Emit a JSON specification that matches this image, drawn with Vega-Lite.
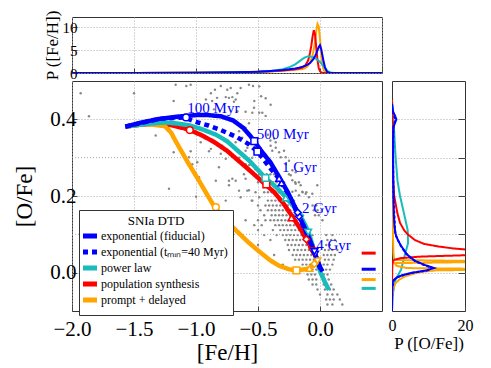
{
  "$schema": "https://vega.github.io/schema/vega-lite/v6.json",
  "padding": {"left": 13, "top": 9, "right": 5, "bottom": 5},
  "config": {
    "font": "Liberation Serif",
    "view": {"stroke": "#333", "strokeWidth": 1},
    "style": {"guide-label": {"font": "Liberation Serif"}, "guide-title": {"font": "Liberation Serif"}},
    "axis": {"labelFont": "Liberation Serif", "titleFont": "Liberation Serif", "labelColor": "#000", "titleColor": "#000", "titleFontWeight": "normal", "domain": false, "tickColor": "#444", "gridColor": "#aaa", "gridDash": [1, 2], "labelFlush": false, "labelOverlap": false},
    "legend": {"labelFont": "Liberation Serif", "titleFont": "Liberation Serif"}
  },
  "datasets": {
    "obs": [
      {"x": -1.93, "y": 0.468}, {"x": -1.5, "y": 0.468}, {"x": -1.863, "y": 0.408}, {"x": -1.325, "y": 0.358}, {"x": -1.218, "y": 0.219},
      {"x": -1.19, "y": 0.353}, {"x": -1.18, "y": 0.448}, {"x": -1.18, "y": 0.314}, {"x": -1.164, "y": 0.49}, {"x": -1.078, "y": 0.487},
      {"x": -1.056, "y": 0.301}, {"x": -1.043, "y": 0.49}, {"x": -1.043, "y": 0.317}, {"x": -1.03, "y": 0.283}, {"x": -0.99, "y": 0.288},
      {"x": -0.976, "y": 0.249}, {"x": -0.962, "y": 0.34}, {"x": -1.0, "y": 0.198}, {"x": -0.92, "y": 0.452}, {"x": -0.895, "y": 0.366},
      {"x": -0.895, "y": 0.317}, {"x": -0.88, "y": 0.468}, {"x": -0.88, "y": 0.323}, {"x": -0.87, "y": 0.448}, {"x": -0.855, "y": 0.426},
      {"x": -0.847, "y": 0.477}, {"x": -0.84, "y": 0.24}, {"x": -0.83, "y": 0.456}, {"x": -0.815, "y": 0.275}, {"x": -0.8, "y": 0.487},
      {"x": -0.8, "y": 0.31}, {"x": -0.788, "y": 0.331}, {"x": -0.76, "y": 0.458}, {"x": -0.76, "y": 0.297}, {"x": -0.76, "y": 0.188},
      {"x": -0.748, "y": 0.477}, {"x": -0.734, "y": 0.456}, {"x": -0.734, "y": 0.24}, {"x": -0.734, "y": 0.228}, {"x": -0.72, "y": 0.482},
      {"x": -0.707, "y": 0.458}, {"x": -0.707, "y": 0.331}, {"x": -0.707, "y": 0.245}, {"x": -0.694, "y": 0.446}, {"x": -0.68, "y": 0.452},
      {"x": -0.68, "y": 0.34}, {"x": -0.68, "y": 0.24}, {"x": -0.667, "y": 0.468}, {"x": -0.667, "y": 0.421}, {"x": -0.653, "y": 0.369},
      {"x": -0.653, "y": 0.3}, {"x": -0.653, "y": 0.214}, {"x": -0.64, "y": 0.482}, {"x": -0.64, "y": 0.288}, {"x": -0.64, "y": 0.197},
      {"x": -0.627, "y": 0.352}, {"x": -0.613, "y": 0.257}, {"x": -0.6, "y": 0.42}, {"x": -0.6, "y": 0.378}, {"x": -0.6, "y": 0.318},
      {"x": -0.6, "y": 0.283}, {"x": -0.6, "y": 0.245}, {"x": -0.6, "y": 0.137}, {"x": -0.586, "y": 0.326}, {"x": -0.586, "y": 0.214},
      {"x": -0.573, "y": 0.49}, {"x": -0.573, "y": 0.39}, {"x": -0.573, "y": 0.28}, {"x": -0.573, "y": 0.215}, {"x": -0.56, "y": 0.283},
      {"x": -0.546, "y": 0.417}, {"x": -0.546, "y": 0.3}, {"x": -0.546, "y": 0.188}, {"x": -0.54, "y": 0.487}, {"x": -0.532, "y": 0.43},
      {"x": -0.53, "y": 0.448}, {"x": -0.52, "y": 0.27}, {"x": -0.49, "y": 0.486}, {"x": -0.49, "y": 0.417}, {"x": -0.49, "y": 0.197},
      {"x": -0.475, "y": 0.46}, {"x": -0.465, "y": 0.417}, {"x": -0.438, "y": 0.455}, {"x": -0.438, "y": 0.409}, {"x": -0.42, "y": 0.36},
      {"x": -0.4, "y": 0.345}, {"x": -0.398, "y": 0.438}, {"x": -0.398, "y": 0.331}, {"x": -0.385, "y": 0.318}, {"x": -0.37, "y": 0.35},
      {"x": -0.357, "y": 0.34}, {"x": -0.357, "y": 0.326}, {"x": -0.33, "y": 0.314}, {"x": -0.317, "y": 0.301}, {"x": -0.29, "y": 0.318},
      {"x": -0.277, "y": 0.301}, {"x": -0.277, "y": 0.283}, {"x": -0.25, "y": 0.292}, {"x": -0.25, "y": 0.257}, {"x": -0.236, "y": 0.254},
      {"x": -0.223, "y": 0.267}, {"x": -0.223, "y": 0.241}, {"x": -0.223, "y": 0.211}, {"x": -0.196, "y": 0.262}, {"x": -0.196, "y": 0.232},
      {"x": -0.196, "y": 0.214}, {"x": -0.169, "y": 0.202}, {"x": -0.156, "y": 0.228}, {"x": -0.143, "y": 0.211}, {"x": -0.115, "y": 0.206},
      {"x": -0.089, "y": 0.197}, {"x": -0.062, "y": 0.206}, {"x": -0.022, "y": 0.228},
      {"x": -0.49, "y": 0.257}, {"x": -0.46, "y": 0.257}, {"x": -0.43, "y": 0.257}, {"x": -0.4, "y": 0.257}, {"x": -0.37, "y": 0.257}, {"x": -0.34, "y": 0.257},
      {"x": -0.5, "y": 0.236}, {"x": -0.47, "y": 0.236}, {"x": -0.44, "y": 0.236}, {"x": -0.41, "y": 0.236}, {"x": -0.38, "y": 0.236}, {"x": -0.35, "y": 0.236}, {"x": -0.32, "y": 0.236}, {"x": -0.29, "y": 0.236}, {"x": -0.2, "y": 0.236}, {"x": -0.17, "y": 0.236},
      {"x": -0.52, "y": 0.21}, {"x": -0.45, "y": 0.21}, {"x": -0.42, "y": 0.21}, {"x": -0.39, "y": 0.21}, {"x": -0.36, "y": 0.21}, {"x": -0.33, "y": 0.21}, {"x": -0.3, "y": 0.21}, {"x": -0.27, "y": 0.21}, {"x": -0.14, "y": 0.21}, {"x": -0.11, "y": 0.21},
      {"x": -0.55, "y": 0.188}, {"x": -0.42, "y": 0.188}, {"x": -0.39, "y": 0.188}, {"x": -0.36, "y": 0.188}, {"x": -0.33, "y": 0.188}, {"x": -0.3, "y": 0.188}, {"x": -0.27, "y": 0.188}, {"x": -0.24, "y": 0.188}, {"x": -0.21, "y": 0.188},
      {"x": -0.5, "y": 0.175}, {"x": -0.44, "y": 0.175}, {"x": -0.41, "y": 0.175}, {"x": -0.38, "y": 0.175}, {"x": -0.35, "y": 0.175}, {"x": -0.32, "y": 0.175}, {"x": -0.29, "y": 0.175}, {"x": -0.26, "y": 0.175}, {"x": -0.23, "y": 0.175}, {"x": -0.2, "y": 0.175}, {"x": -0.06, "y": 0.175}, {"x": -0.03, "y": 0.175},
      {"x": -0.48, "y": 0.163}, {"x": -0.42, "y": 0.163}, {"x": -0.39, "y": 0.163}, {"x": -0.36, "y": 0.163}, {"x": -0.33, "y": 0.163}, {"x": -0.3, "y": 0.163}, {"x": -0.27, "y": 0.163}, {"x": -0.24, "y": 0.163}, {"x": -0.21, "y": 0.163}, {"x": -0.18, "y": 0.163}, {"x": -0.05, "y": 0.163}, {"x": -0.02, "y": 0.163},
      {"x": -0.45, "y": 0.15}, {"x": -0.39, "y": 0.15}, {"x": -0.36, "y": 0.15}, {"x": -0.33, "y": 0.15}, {"x": -0.3, "y": 0.15}, {"x": -0.27, "y": 0.15}, {"x": -0.24, "y": 0.15}, {"x": -0.21, "y": 0.15}, {"x": -0.18, "y": 0.15}, {"x": -0.15, "y": 0.15}, {"x": -0.04, "y": 0.15}, {"x": -0.01, "y": 0.15},
      {"x": -0.5, "y": 0.137}, {"x": -0.44, "y": 0.137}, {"x": -0.4, "y": 0.137}, {"x": -0.37, "y": 0.137}, {"x": -0.34, "y": 0.137}, {"x": -0.31, "y": 0.137}, {"x": -0.28, "y": 0.137}, {"x": -0.25, "y": 0.137}, {"x": -0.22, "y": 0.137}, {"x": -0.19, "y": 0.137}, {"x": -0.16, "y": 0.137}, {"x": -0.13, "y": 0.137}, {"x": 0.02, "y": 0.137},
      {"x": -0.53, "y": 0.124}, {"x": -0.47, "y": 0.124}, {"x": -0.36, "y": 0.124}, {"x": -0.33, "y": 0.124}, {"x": -0.3, "y": 0.124}, {"x": -0.27, "y": 0.124}, {"x": -0.24, "y": 0.124}, {"x": -0.21, "y": 0.124}, {"x": -0.18, "y": 0.124}, {"x": -0.15, "y": 0.124}, {"x": -0.12, "y": 0.124},
      {"x": -0.5, "y": 0.111}, {"x": -0.38, "y": 0.111}, {"x": -0.32, "y": 0.111}, {"x": -0.29, "y": 0.111}, {"x": -0.26, "y": 0.111}, {"x": -0.23, "y": 0.111}, {"x": -0.2, "y": 0.111}, {"x": -0.17, "y": 0.111}, {"x": -0.14, "y": 0.111}, {"x": -0.11, "y": 0.111}, {"x": -0.08, "y": 0.111},
      {"x": -0.45, "y": 0.098}, {"x": -0.35, "y": 0.098}, {"x": -0.3, "y": 0.098}, {"x": -0.27, "y": 0.098}, {"x": -0.24, "y": 0.098}, {"x": -0.21, "y": 0.098}, {"x": -0.18, "y": 0.098}, {"x": -0.15, "y": 0.098}, {"x": -0.12, "y": 0.098}, {"x": -0.09, "y": 0.098}, {"x": -0.06, "y": 0.098}, {"x": 0.05, "y": 0.098}, {"x": 0.1, "y": 0.098},
      {"x": -0.4, "y": 0.085}, {"x": -0.28, "y": 0.085}, {"x": -0.25, "y": 0.085}, {"x": -0.22, "y": 0.085}, {"x": -0.19, "y": 0.085}, {"x": -0.16, "y": 0.085}, {"x": -0.13, "y": 0.085}, {"x": -0.1, "y": 0.085}, {"x": -0.07, "y": 0.085}, {"x": 0.06, "y": 0.085}, {"x": 0.09, "y": 0.085}, {"x": 0.12, "y": 0.085},
      {"x": -0.5, "y": 0.072}, {"x": -0.26, "y": 0.072}, {"x": -0.23, "y": 0.072}, {"x": -0.2, "y": 0.072}, {"x": -0.17, "y": 0.072}, {"x": -0.14, "y": 0.072}, {"x": -0.11, "y": 0.072}, {"x": -0.08, "y": 0.072}, {"x": -0.05, "y": 0.072}, {"x": 0.05, "y": 0.072}, {"x": 0.08, "y": 0.072},
      {"x": -0.25, "y": 0.059}, {"x": -0.21, "y": 0.059}, {"x": -0.18, "y": 0.059}, {"x": -0.15, "y": 0.059}, {"x": -0.12, "y": 0.059}, {"x": -0.09, "y": 0.059}, {"x": -0.06, "y": 0.059}, {"x": 0.04, "y": 0.059}, {"x": 0.07, "y": 0.059}, {"x": 0.1, "y": 0.059}, {"x": 0.14, "y": 0.059},
      {"x": -0.37, "y": 0.046}, {"x": -0.22, "y": 0.046}, {"x": -0.19, "y": 0.046}, {"x": -0.16, "y": 0.046}, {"x": -0.13, "y": 0.046}, {"x": -0.1, "y": 0.046}, {"x": -0.07, "y": 0.046}, {"x": -0.04, "y": 0.046}, {"x": 0.03, "y": 0.046}, {"x": 0.06, "y": 0.046}, {"x": 0.09, "y": 0.046}, {"x": 0.12, "y": 0.046},
      {"x": -0.2, "y": 0.034}, {"x": -0.17, "y": 0.034}, {"x": -0.14, "y": 0.034}, {"x": -0.11, "y": 0.034}, {"x": -0.08, "y": 0.034}, {"x": -0.05, "y": 0.034}, {"x": 0.04, "y": 0.034}, {"x": 0.07, "y": 0.034}, {"x": 0.11, "y": 0.034},
      {"x": -0.3, "y": 0.021}, {"x": -0.14, "y": 0.021}, {"x": -0.11, "y": 0.021}, {"x": -0.08, "y": 0.021}, {"x": -0.05, "y": 0.021}, {"x": -0.02, "y": 0.021}, {"x": 0.03, "y": 0.021}, {"x": 0.06, "y": 0.021}, {"x": 0.1, "y": 0.021},
      {"x": -0.12, "y": 0.008}, {"x": -0.09, "y": 0.008}, {"x": -0.06, "y": 0.008}, {"x": -0.03, "y": 0.008}, {"x": 0.02, "y": 0.008}, {"x": 0.05, "y": 0.008}, {"x": 0.08, "y": 0.008},
      {"x": -0.1, "y": -0.005}, {"x": -0.07, "y": -0.005}, {"x": -0.04, "y": -0.005}, {"x": 0.03, "y": -0.005}, {"x": 0.06, "y": -0.005},
      {"x": -0.09, "y": -0.018}, {"x": -0.06, "y": -0.018}, {"x": -0.03, "y": -0.018}, {"x": 0.04, "y": -0.018}, {"x": 0.07, "y": -0.018},
      {"x": -0.06, "y": -0.031}, {"x": -0.03, "y": -0.031}, {"x": 0.03, "y": -0.031}, {"x": 0.05, "y": -0.031}, {"x": 0.09, "y": -0.031},
      {"x": -0.02, "y": -0.044}, {"x": 0.04, "y": -0.044}, {"x": 0.08, "y": -0.044}, {"x": 0.11, "y": -0.044},
      {"x": 0.0, "y": -0.057}, {"x": 0.06, "y": -0.057}, {"x": 0.1, "y": -0.057}, {"x": 0.14, "y": -0.057},
      {"x": 0.05, "y": -0.07}, {"x": 0.08, "y": -0.07}, {"x": 0.11, "y": -0.07}, {"x": 0.16, "y": -0.07},
      {"x": 0.06, "y": -0.083}, {"x": 0.1, "y": -0.083}, {"x": 0.18, "y": -0.083}
    ],
    "minorgrid": [{"v": 0.1}, {"v": 0.3}],
    "tracks": [
      {"m": "pop", "feh": -1.57, "ofe": 0.381}, {"m": "pop", "feh": -1.45, "ofe": 0.386}, {"m": "pop", "feh": -1.3, "ofe": 0.389}, {"m": "pop", "feh": -1.2, "ofe": 0.385},
      {"m": "pop", "feh": -1.1, "ofe": 0.377}, {"m": "pop", "feh": -1.05, "ofe": 0.372}, {"m": "pop", "feh": -0.95, "ofe": 0.358}, {"m": "pop", "feh": -0.85, "ofe": 0.34},
      {"m": "pop", "feh": -0.75, "ofe": 0.318}, {"m": "pop", "feh": -0.65, "ofe": 0.29}, {"m": "pop", "feh": -0.55, "ofe": 0.262}, {"m": "pop", "feh": -0.44, "ofe": 0.23},
      {"m": "pop", "feh": -0.37, "ofe": 0.21}, {"m": "pop", "feh": -0.3, "ofe": 0.183}, {"m": "pop", "feh": -0.22, "ofe": 0.145}, {"m": "pop", "feh": -0.15, "ofe": 0.11},
      {"m": "pop", "feh": -0.11, "ofe": 0.087}, {"m": "pop", "feh": -0.06, "ofe": 0.058}, {"m": "pop", "feh": -0.03, "ofe": 0.04},
      {"m": "pd", "feh": -1.57, "ofe": 0.381}, {"m": "pd", "feh": -1.4, "ofe": 0.388}, {"m": "pd", "feh": -1.25, "ofe": 0.382}, {"m": "pd", "feh": -1.2, "ofe": 0.365},
      {"m": "pd", "feh": -1.164, "ofe": 0.343}, {"m": "pd", "feh": -1.07, "ofe": 0.29}, {"m": "pd", "feh": -0.976, "ofe": 0.24}, {"m": "pd", "feh": -0.9, "ofe": 0.198},
      {"m": "pd", "feh": -0.85, "ofe": 0.171}, {"m": "pd", "feh": -0.76, "ofe": 0.138}, {"m": "pd", "feh": -0.68, "ofe": 0.111}, {"m": "pd", "feh": -0.58, "ofe": 0.08},
      {"m": "pd", "feh": -0.49, "ofe": 0.055}, {"m": "pd", "feh": -0.4, "ofe": 0.032}, {"m": "pd", "feh": -0.33, "ofe": 0.018}, {"m": "pd", "feh": -0.25, "ofe": 0.009},
      {"m": "pd", "feh": -0.19, "ofe": 0.006}, {"m": "pd", "feh": -0.115, "ofe": 0.009}, {"m": "pd", "feh": -0.075, "ofe": 0.013}, {"m": "pd", "feh": -0.04, "ofe": 0.023},
      {"m": "pd", "feh": -0.01, "ofe": 0.036},
      {"m": "pow", "feh": -1.57, "ofe": 0.381}, {"m": "pow", "feh": -1.4, "ofe": 0.388}, {"m": "pow", "feh": -1.25, "ofe": 0.392}, {"m": "pow", "feh": -1.15, "ofe": 0.389},
      {"m": "pow", "feh": -1.05, "ofe": 0.384}, {"m": "pow", "feh": -0.95, "ofe": 0.374}, {"m": "pow", "feh": -0.84, "ofe": 0.36}, {"m": "pow", "feh": -0.75, "ofe": 0.343},
      {"m": "pow", "feh": -0.68, "ofe": 0.323}, {"m": "pow", "feh": -0.57, "ofe": 0.292}, {"m": "pow", "feh": -0.44, "ofe": 0.247}, {"m": "pow", "feh": -0.35, "ofe": 0.222},
      {"m": "pow", "feh": -0.277, "ofe": 0.197}, {"m": "pow", "feh": -0.22, "ofe": 0.176}, {"m": "pow", "feh": -0.169, "ofe": 0.154}, {"m": "pow", "feh": -0.12, "ofe": 0.125},
      {"m": "pow", "feh": -0.089, "ofe": 0.102}, {"m": "pow", "feh": -0.05, "ofe": 0.06}, {"m": "pow", "feh": -0.02, "ofe": 0.024}, {"m": "pow", "feh": 0.005, "ofe": 0.0},
      {"m": "pow", "feh": 0.04, "ofe": -0.025}, {"m": "pow", "feh": 0.072, "ofe": -0.045},
      {"m": "tmin", "feh": -1.57, "ofe": 0.381}, {"m": "tmin", "feh": -1.3, "ofe": 0.401}, {"m": "tmin", "feh": -1.1, "ofe": 0.405}, {"m": "tmin", "feh": -0.976, "ofe": 0.391},
      {"m": "tmin", "feh": -0.9, "ofe": 0.384}, {"m": "tmin", "feh": -0.815, "ofe": 0.374}, {"m": "tmin", "feh": -0.73, "ofe": 0.362}, {"m": "tmin", "feh": -0.667, "ofe": 0.353},
      {"m": "tmin", "feh": -0.573, "ofe": 0.335}, {"m": "tmin", "feh": -0.505, "ofe": 0.316}, {"m": "tmin", "feh": -0.45, "ofe": 0.293}, {"m": "tmin", "feh": -0.4, "ofe": 0.272},
      {"m": "tmin", "feh": -0.33, "ofe": 0.245}, {"m": "tmin", "feh": -0.26, "ofe": 0.207}, {"m": "tmin", "feh": -0.2, "ofe": 0.168}, {"m": "tmin", "feh": -0.15, "ofe": 0.133},
      {"m": "tmin", "feh": -0.1, "ofe": 0.098}, {"m": "tmin", "feh": -0.05, "ofe": 0.056}, {"m": "tmin", "feh": 0.0, "ofe": 0.013}, {"m": "tmin", "feh": 0.02, "ofe": 0.003},
      {"m": "fid", "feh": -1.57, "ofe": 0.381}, {"m": "fid", "feh": -1.45, "ofe": 0.391}, {"m": "fid", "feh": -1.3, "ofe": 0.401}, {"m": "fid", "feh": -1.15, "ofe": 0.407},
      {"m": "fid", "feh": -1.0, "ofe": 0.411}, {"m": "fid", "feh": -0.9, "ofe": 0.411}, {"m": "fid", "feh": -0.8, "ofe": 0.408}, {"m": "fid", "feh": -0.7, "ofe": 0.397},
      {"m": "fid", "feh": -0.62, "ofe": 0.378}, {"m": "fid", "feh": -0.56, "ofe": 0.356}, {"m": "fid", "feh": -0.53, "ofe": 0.343}, {"m": "fid", "feh": -0.47, "ofe": 0.316},
      {"m": "fid", "feh": -0.4, "ofe": 0.288}, {"m": "fid", "feh": -0.33, "ofe": 0.25}, {"m": "fid", "feh": -0.26, "ofe": 0.21}, {"m": "fid", "feh": -0.2, "ofe": 0.17},
      {"m": "fid", "feh": -0.15, "ofe": 0.135}, {"m": "fid", "feh": -0.1, "ofe": 0.1}, {"m": "fid", "feh": -0.05, "ofe": 0.058}, {"m": "fid", "feh": -0.02, "ofe": 0.032},
      {"m": "fid", "feh": 0.0, "ofe": 0.015}, {"m": "fid", "feh": 0.02, "ofe": 0.003}
    ],
    "ages": [
      {"m": "pop", "t": "100 Myr", "feh": -1.05, "ofe": 0.372}, {"m": "pop", "t": "500 Myr", "feh": -0.433, "ofe": 0.23}, {"m": "pop", "t": "1 Gyr", "feh": -0.23, "ofe": 0.143}, {"m": "pop", "t": "2 Gyr", "feh": -0.11, "ofe": 0.087}, {"m": "pop", "t": "4 Gyr", "feh": -0.062, "ofe": 0.057},
      {"m": "pd", "t": "100 Myr", "feh": -0.84, "ofe": 0.171}, {"m": "pd", "t": "500 Myr", "feh": -0.19, "ofe": 0.006}, {"m": "pd", "t": "1 Gyr", "feh": -0.085, "ofe": 0.011}, {"m": "pd", "t": "2 Gyr", "feh": -0.045, "ofe": 0.023}, {"m": "pd", "t": "4 Gyr", "feh": -0.02, "ofe": 0.031},
      {"m": "pow", "t": "500 Myr", "feh": -0.44, "ofe": 0.247}, {"m": "pow", "t": "1 Gyr", "feh": -0.277, "ofe": 0.195}, {"m": "pow", "t": "2 Gyr", "feh": -0.16, "ofe": 0.149}, {"m": "pow", "t": "4 Gyr", "feh": -0.095, "ofe": 0.106},
      {"m": "tmin", "t": "500 Myr", "feh": -0.505, "ofe": 0.316}, {"m": "tmin", "t": "1 Gyr", "feh": -0.31, "ofe": 0.234}, {"m": "tmin", "t": "2 Gyr", "feh": -0.17, "ofe": 0.147}, {"m": "tmin", "t": "4 Gyr", "feh": -0.04, "ofe": 0.048},
      {"m": "fid", "t": "100 Myr", "feh": -1.08, "ofe": 0.405}, {"m": "fid", "t": "500 Myr", "feh": -0.53, "ofe": 0.343}, {"m": "fid", "t": "1 Gyr", "feh": -0.33, "ofe": 0.246}, {"m": "fid", "t": "2 Gyr", "feh": -0.18, "ofe": 0.157}, {"m": "fid", "t": "4 Gyr", "feh": -0.045, "ofe": 0.055}
    ],
    "agelabels": [
      {"t": "100 Myr", "feh": -1.07, "ofe": 0.43}, {"t": "500 Myr", "feh": -0.51, "ofe": 0.362}, {"t": "1 Gyr", "feh": -0.306, "ofe": 0.276},
      {"t": "2 Gyr", "feh": -0.145, "ofe": 0.168}, {"t": "4 Gyr", "feh": -0.03, "ofe": 0.072}
    ],
    "modes": [
      {"m": "pop", "a": 0.336, "b": 0.449, "ofe": 0.051}, {"m": "fid", "a": 0.336, "b": 0.449, "ofe": 0.009},
      {"m": "pd", "a": 0.336, "b": 0.449, "ofe": -0.018}, {"m": "pow", "a": 0.336, "b": 0.449, "ofe": -0.041}
    ],
    "pfeh": [
      {"m": "pd", "feh": -2.0, "p": 0}, {"m": "pd", "feh": -1.5, "p": 0.01}, {"m": "pd", "feh": -1.0, "p": 0.04}, {"m": "pd", "feh": -0.7, "p": 0.1}, {"m": "pd", "feh": -0.5, "p": 0.25},
      {"m": "pd", "feh": -0.4, "p": 0.35}, {"m": "pd", "feh": -0.3, "p": 0.5}, {"m": "pd", "feh": -0.2, "p": 0.7}, {"m": "pd", "feh": -0.14, "p": 0.9}, {"m": "pd", "feh": -0.12, "p": 1.1},
      {"m": "pd", "feh": -0.1, "p": 1.5}, {"m": "pd", "feh": -0.08, "p": 2.3}, {"m": "pd", "feh": -0.06, "p": 3.8}, {"m": "pd", "feh": -0.05, "p": 5.2}, {"m": "pd", "feh": -0.04, "p": 7.0},
      {"m": "pd", "feh": -0.03, "p": 9.2}, {"m": "pd", "feh": -0.02, "p": 10.8}, {"m": "pd", "feh": -0.01, "p": 10.2}, {"m": "pd", "feh": 0.0, "p": 7.5}, {"m": "pd", "feh": 0.01, "p": 4.0},
      {"m": "pd", "feh": 0.02, "p": 1.8}, {"m": "pd", "feh": 0.03, "p": 0.7}, {"m": "pd", "feh": 0.04, "p": 0.25}, {"m": "pd", "feh": 0.05, "p": 0.08}, {"m": "pd", "feh": 0.07, "p": 0}, {"m": "pd", "feh": 0.5, "p": 0},
      {"m": "pop", "feh": -2.0, "p": 0}, {"m": "pop", "feh": -1.5, "p": 0.01}, {"m": "pop", "feh": -1.0, "p": 0.05}, {"m": "pop", "feh": -0.7, "p": 0.12}, {"m": "pop", "feh": -0.5, "p": 0.28},
      {"m": "pop", "feh": -0.4, "p": 0.4}, {"m": "pop", "feh": -0.3, "p": 0.55}, {"m": "pop", "feh": -0.2, "p": 0.8}, {"m": "pop", "feh": -0.15, "p": 1.1}, {"m": "pop", "feh": -0.12, "p": 1.6},
      {"m": "pop", "feh": -0.1, "p": 2.5}, {"m": "pop", "feh": -0.09, "p": 3.3}, {"m": "pop", "feh": -0.08, "p": 4.5}, {"m": "pop", "feh": -0.07, "p": 6.0}, {"m": "pop", "feh": -0.06, "p": 8.0},
      {"m": "pop", "feh": -0.05, "p": 9.4}, {"m": "pop", "feh": -0.04, "p": 8.5}, {"m": "pop", "feh": -0.03, "p": 5.5}, {"m": "pop", "feh": -0.02, "p": 2.8}, {"m": "pop", "feh": -0.01, "p": 1.1},
      {"m": "pop", "feh": 0.0, "p": 0.4}, {"m": "pop", "feh": 0.01, "p": 0.1}, {"m": "pop", "feh": 0.03, "p": 0}, {"m": "pop", "feh": 0.5, "p": 0},
      {"m": "pow", "feh": -2.0, "p": 0}, {"m": "pow", "feh": -1.5, "p": 0.01}, {"m": "pow", "feh": -1.0, "p": 0.05}, {"m": "pow", "feh": -0.7, "p": 0.15}, {"m": "pow", "feh": -0.5, "p": 0.3},
      {"m": "pow", "feh": -0.4, "p": 0.45}, {"m": "pow", "feh": -0.35, "p": 0.6}, {"m": "pow", "feh": -0.3, "p": 0.85}, {"m": "pow", "feh": -0.25, "p": 1.25}, {"m": "pow", "feh": -0.2, "p": 1.9},
      {"m": "pow", "feh": -0.17, "p": 2.5}, {"m": "pow", "feh": -0.14, "p": 3.1}, {"m": "pow", "feh": -0.12, "p": 3.45}, {"m": "pow", "feh": -0.1, "p": 3.65}, {"m": "pow", "feh": -0.08, "p": 3.65},
      {"m": "pow", "feh": -0.06, "p": 3.5}, {"m": "pow", "feh": -0.04, "p": 3.25}, {"m": "pow", "feh": -0.02, "p": 2.9}, {"m": "pow", "feh": 0.0, "p": 2.4}, {"m": "pow", "feh": 0.02, "p": 1.8},
      {"m": "pow", "feh": 0.04, "p": 1.1}, {"m": "pow", "feh": 0.06, "p": 0.5}, {"m": "pow", "feh": 0.08, "p": 0.15}, {"m": "pow", "feh": 0.1, "p": 0.03}, {"m": "pow", "feh": 0.12, "p": 0}, {"m": "pow", "feh": 0.5, "p": 0},
      {"m": "fid", "feh": -2.0, "p": 0}, {"m": "fid", "feh": -1.5, "p": 0.02}, {"m": "fid", "feh": -1.0, "p": 0.06}, {"m": "fid", "feh": -0.7, "p": 0.15}, {"m": "fid", "feh": -0.5, "p": 0.3},
      {"m": "fid", "feh": -0.4, "p": 0.45}, {"m": "fid", "feh": -0.3, "p": 0.65}, {"m": "fid", "feh": -0.25, "p": 0.8}, {"m": "fid", "feh": -0.2, "p": 1.0}, {"m": "fid", "feh": -0.17, "p": 1.15},
      {"m": "fid", "feh": -0.14, "p": 1.4}, {"m": "fid", "feh": -0.12, "p": 1.6}, {"m": "fid", "feh": -0.1, "p": 1.85}, {"m": "fid", "feh": -0.08, "p": 2.2}, {"m": "fid", "feh": -0.06, "p": 2.8},
      {"m": "fid", "feh": -0.05, "p": 3.2}, {"m": "fid", "feh": -0.04, "p": 3.7}, {"m": "fid", "feh": -0.03, "p": 4.3}, {"m": "fid", "feh": -0.02, "p": 5.0}, {"m": "fid", "feh": -0.01, "p": 5.7},
      {"m": "fid", "feh": 0.0, "p": 6.1}, {"m": "fid", "feh": 0.01, "p": 5.2}, {"m": "fid", "feh": 0.02, "p": 3.8}, {"m": "fid", "feh": 0.03, "p": 2.4}, {"m": "fid", "feh": 0.04, "p": 1.3},
      {"m": "fid", "feh": 0.05, "p": 0.6}, {"m": "fid", "feh": 0.06, "p": 0.2}, {"m": "fid", "feh": 0.08, "p": 0.02}, {"m": "fid", "feh": 0.1, "p": 0}, {"m": "fid", "feh": 0.5, "p": 0}
    ],
    "pofe": [
      {"m": "pow", "ofe": 0.45, "p": 0}, {"m": "pow", "ofe": 0.42, "p": 0.3}, {"m": "pow", "ofe": 0.35, "p": 0.7}, {"m": "pow", "ofe": 0.3, "p": 1.0}, {"m": "pow", "ofe": 0.24, "p": 1.5},
      {"m": "pow", "ofe": 0.2, "p": 2.2}, {"m": "pow", "ofe": 0.154, "p": 3.3}, {"m": "pow", "ofe": 0.111, "p": 4.3}, {"m": "pow", "ofe": 0.077, "p": 4.4}, {"m": "pow", "ofe": 0.042, "p": 3.4},
      {"m": "pow", "ofe": 0.008, "p": 2.5}, {"m": "pow", "ofe": -0.018, "p": 1.0}, {"m": "pow", "ofe": -0.035, "p": 0.6}, {"m": "pow", "ofe": -0.052, "p": 0.3}, {"m": "pow", "ofe": -0.07, "p": 0.1}, {"m": "pow", "ofe": -0.1, "p": 0},
      {"m": "pd", "ofe": 0.45, "p": 0}, {"m": "pd", "ofe": 0.35, "p": 0.1}, {"m": "pd", "ofe": 0.2, "p": 0.2}, {"m": "pd", "ofe": 0.1, "p": 0.25}, {"m": "pd", "ofe": 0.05, "p": 0.4},
      {"m": "pd", "ofe": 0.033, "p": 0.6}, {"m": "pd", "ofe": 0.029, "p": 35}, {"m": "pd", "ofe": 0.025, "p": 0.8}, {"m": "pd", "ofe": 0.018, "p": 1.2}, {"m": "pd", "ofe": 0.012, "p": 4},
      {"m": "pd", "ofe": 0.009, "p": 35}, {"m": "pd", "ofe": 0.006, "p": 12}, {"m": "pd", "ofe": 0.002, "p": 8}, {"m": "pd", "ofe": -0.004, "p": 5.5}, {"m": "pd", "ofe": -0.01, "p": 3.5},
      {"m": "pd", "ofe": -0.018, "p": 2}, {"m": "pd", "ofe": -0.028, "p": 0.9}, {"m": "pd", "ofe": -0.04, "p": 0.4}, {"m": "pd", "ofe": -0.06, "p": 0.1}, {"m": "pd", "ofe": -0.1, "p": 0},
      {"m": "pop", "ofe": 0.45, "p": 0}, {"m": "pop", "ofe": 0.4, "p": 0.1}, {"m": "pop", "ofe": 0.3, "p": 0.2}, {"m": "pop", "ofe": 0.24, "p": 0.3}, {"m": "pop", "ofe": 0.2, "p": 0.6},
      {"m": "pop", "ofe": 0.154, "p": 1.5}, {"m": "pop", "ofe": 0.13, "p": 2.2}, {"m": "pop", "ofe": 0.111, "p": 3.3}, {"m": "pop", "ofe": 0.1, "p": 4.3}, {"m": "pop", "ofe": 0.085, "p": 6.3},
      {"m": "pop", "ofe": 0.075, "p": 8.8}, {"m": "pop", "ofe": 0.068, "p": 12.9}, {"m": "pop", "ofe": 0.063, "p": 17}, {"m": "pop", "ofe": 0.059, "p": 22}, {"m": "pop", "ofe": 0.052, "p": 30},
      {"m": "pop", "ofe": 0.046, "p": 22}, {"m": "pop", "ofe": 0.042, "p": 8}, {"m": "pop", "ofe": 0.038, "p": 2.5}, {"m": "pop", "ofe": 0.034, "p": 0.7}, {"m": "pop", "ofe": 0.03, "p": 0.3},
      {"m": "pop", "ofe": 0.02, "p": 0.1}, {"m": "pop", "ofe": 0.0, "p": 0.05}, {"m": "pop", "ofe": -0.1, "p": 0},
      {"m": "tmin", "ofe": 0.42, "p": 0.2}, {"m": "tmin", "ofe": 0.4, "p": 0.9}, {"m": "tmin", "ofe": 0.38, "p": 0.4}, {"m": "tmin", "ofe": 0.3, "p": 0.3}, {"m": "tmin", "ofe": 0.2, "p": 0.4},
      {"m": "tmin", "ofe": 0.1, "p": 0.9}, {"m": "tmin", "ofe": 0.07, "p": 2.4}, {"m": "tmin", "ofe": 0.05, "p": 3.8}, {"m": "tmin", "ofe": 0.03, "p": 6.3}, {"m": "tmin", "ofe": 0.02, "p": 8.8},
      {"m": "tmin", "ofe": 0.013, "p": 11.0}, {"m": "tmin", "ofe": 0.006, "p": 9.8}, {"m": "tmin", "ofe": 0.0, "p": 5.8}, {"m": "tmin", "ofe": -0.006, "p": 3.2}, {"m": "tmin", "ofe": -0.012, "p": 1.5},
      {"m": "tmin", "ofe": -0.02, "p": 0.5}, {"m": "tmin", "ofe": -0.04, "p": 0.05}, {"m": "tmin", "ofe": -0.1, "p": 0},
      {"m": "fid", "ofe": 0.44, "p": 0}, {"m": "fid", "ofe": 0.42, "p": 0.3}, {"m": "fid", "ofe": 0.41, "p": 0.8}, {"m": "fid", "ofe": 0.4, "p": 1.2}, {"m": "fid", "ofe": 0.39, "p": 0.8},
      {"m": "fid", "ofe": 0.38, "p": 0.4}, {"m": "fid", "ofe": 0.35, "p": 0.3}, {"m": "fid", "ofe": 0.3, "p": 0.3}, {"m": "fid", "ofe": 0.25, "p": 0.35}, {"m": "fid", "ofe": 0.2, "p": 0.4},
      {"m": "fid", "ofe": 0.15, "p": 0.5}, {"m": "fid", "ofe": 0.12, "p": 0.7}, {"m": "fid", "ofe": 0.1, "p": 1.0}, {"m": "fid", "ofe": 0.085, "p": 1.6}, {"m": "fid", "ofe": 0.07, "p": 2.5},
      {"m": "fid", "ofe": 0.06, "p": 3.2}, {"m": "fid", "ofe": 0.05, "p": 3.9}, {"m": "fid", "ofe": 0.04, "p": 5.0}, {"m": "fid", "ofe": 0.03, "p": 6.5}, {"m": "fid", "ofe": 0.02, "p": 9.0},
      {"m": "fid", "ofe": 0.012, "p": 11.5}, {"m": "fid", "ofe": 0.006, "p": 9.5}, {"m": "fid", "ofe": 0.0, "p": 5.6}, {"m": "fid", "ofe": -0.006, "p": 3.0}, {"m": "fid", "ofe": -0.012, "p": 1.4},
      {"m": "fid", "ofe": -0.018, "p": 0.6}, {"m": "fid", "ofe": -0.025, "p": 0.2}, {"m": "fid", "ofe": -0.04, "p": 0.05}, {"m": "fid", "ofe": -0.1, "p": 0}
    ]
  },
  "bounds": "flush",
  "align": "each",
  "columns": 2,
  "spacing": {"row": 8, "column": 10},
  "resolve": {"scale": {"color": "independent", "strokeDash": "independent", "stroke": "independent"}},
  "concat": [
    {
      "width": 310,
      "height": 56,
      "data": {"name": "pfeh"},
      "mark": {"type": "line", "strokeWidth": 2, "clip": true},
      "encoding": {
        "x": {"field": "feh", "type": "quantitative", "scale": {"domain": [-2, 0.5], "nice": false, "zero": false},
              "axis": {"values": [-2, -1.5, -1, -0.5, 0, 0.5], "labels": false, "title": null, "tickSize": -5, "grid": true}},
        "y": {"field": "p", "type": "quantitative", "scale": {"domain": [0, 12.3], "nice": false},
              "axis": {"values": [0, 5, 10], "title": "P ([Fe/H])", "titleFont": "Liberation Serif", "labelFont": "Liberation Serif", "titleFontSize": 17, "labelFontSize": 15, "tickSize": -5, "labelPadding": 0, "titlePadding": 1, "grid": true}},
        "color": {"field": "m", "type": "nominal", "legend": null,
                  "scale": {"domain": ["fid", "tmin", "pow", "pop", "pd"], "range": ["#0000ff", "#0000ff", "#18bcbc", "#ff0000", "#ffa500"]}}
      }
    },
    {
      "width": 73,
      "height": 56,
      "view": {"stroke": null},
      "data": {"values": []},
      "mark": {"type": "point"}
    },
    {
      "width": 310,
      "height": 230,
      "layer": [
        {
          "data": {"name": "obs"},
          "mark": {"type": "circle", "size": 6, "color": "#888", "opacity": 1},
          "encoding": {
            "x": {"field": "x", "type": "quantitative", "scale": {"domain": [-2, 0.5], "nice": false, "zero": false},
                  "axis": {"values": [-2, -1.5, -1, -0.5, 0], "format": ".1f", "title": "[Fe/H]", "titleFont": "Liberation Serif", "labelFont": "Liberation Serif", "titleFontSize": 23, "labelFontSize": 21, "tickSize": -5, "labelPadding": 12, "titlePadding": 2, "grid": true}},
            "y": {"field": "y", "type": "quantitative", "scale": {"domain": [-0.1, 0.5], "nice": false, "zero": false},
                  "axis": {"values": [0, 0.2, 0.4], "format": ".1f", "title": "[O/Fe]", "titleFont": "Liberation Serif", "labelFont": "Liberation Serif", "titleFontSize": 23, "labelFontSize": 21, "tickSize": -5, "labelPadding": 1, "titlePadding": 13, "grid": true}}
          }
        },
        {
          "data": {"name": "minorgrid"},
          "mark": {"type": "rule", "color": "#aaa", "strokeDash": [1, 2], "strokeWidth": 1},
          "encoding": {"y": {"field": "v", "type": "quantitative"}}
        },
        {"mark": {"type": "rule", "color": "#333", "strokeWidth": 1}, "encoding": {"x": {"datum": 0}}},
        {"mark": {"type": "rule", "color": "#333", "strokeWidth": 1}, "encoding": {"y": {"datum": 0}}},
        {
          "data": {"name": "tracks"},
          "mark": {"type": "line", "strokeCap": "butt", "strokeWidth": 4.5},
          "encoding": {
            "x": {"field": "feh", "type": "quantitative"},
            "y": {"field": "ofe", "type": "quantitative"},
            "color": {"field": "m", "type": "nominal",
                      "scale": {"domain": ["fid", "tmin", "pow", "pop", "pd"], "range": ["#0000ff", "#0000ff", "#18bcbc", "#ff0000", "#ffa500"]},
                      "legend": {"title": "SNIa DTD", "orient": "none", "legendX": 7, "legendY": 129, "symbolType": "M-2,0L2,0", "symbolStrokeWidth": 5, "symbolSize": 49,
                                 "labelFont": "Liberation Serif", "titleFont": "Liberation Serif",
                                 "labelFontSize": 12, "titleFontSize": 13, "titleFontWeight": "normal", "titleAnchor": "middle", "titlePadding": 2, "strokeColor": "#333", "fillColor": "white",
                                 "padding": 5, "rowPadding": -13, "labelLimit": 300, "cornerRadius": 0, "labelOffset": 5,
                                 "labelExpr": "datum.label == 'fid' ? 'exponential (fiducial)' : datum.label == 'tmin' ? 'exponential (tₘᵢₙ=40 Myr)' : datum.label == 'pow' ? 'power law' : datum.label == 'pop' ? 'population synthesis' : 'prompt + delayed'"}},
            "strokeDash": {"field": "m", "type": "nominal",
                           "scale": {"domain": ["fid", "tmin", "pow", "pop", "pd"], "range": [[1, 0], [5, 4], [1, 0], [1, 0], [1, 0]]},
                           "legend": {"title": "SNIa DTD", "orient": "none", "legendX": 7, "legendY": 129, "symbolType": "M-2,0L2,0", "symbolStrokeWidth": 5, "symbolSize": 49,
                                 "labelFont": "Liberation Serif", "titleFont": "Liberation Serif",
                                 "labelFontSize": 12, "titleFontSize": 13, "titleFontWeight": "normal", "titleAnchor": "middle", "titlePadding": 2, "strokeColor": "#333", "fillColor": "white",
                                 "padding": 5, "rowPadding": -13, "labelLimit": 300, "cornerRadius": 0, "labelOffset": 5,
                                 "labelExpr": "datum.label == 'fid' ? 'exponential (fiducial)' : datum.label == 'tmin' ? 'exponential (tₘᵢₙ=40 Myr)' : datum.label == 'pow' ? 'power law' : datum.label == 'pop' ? 'population synthesis' : 'prompt + delayed'"}}
          }
        },
        {
          "data": {"name": "ages"},
          "mark": {"type": "point", "filled": true, "fill": "white", "strokeWidth": 1.5, "size": 45, "opacity": 1},
          "encoding": {
            "x": {"field": "feh", "type": "quantitative"},
            "y": {"field": "ofe", "type": "quantitative"},
            "stroke": {"field": "m", "type": "nominal", "legend": null,
                       "scale": {"domain": ["fid", "tmin", "pow", "pop", "pd"], "range": ["#0000ff", "#0000ff", "#18bcbc", "#ff0000", "#ffa500"]}},
            "shape": {"field": "t", "type": "nominal", "legend": null,
                      "scale": {"domain": ["100 Myr", "500 Myr", "1 Gyr", "2 Gyr", "4 Gyr"], "range": ["circle", "square", "triangle-up", "diamond", "triangle-down"]}}
          }
        },
        {
          "data": {"name": "agelabels"},
          "mark": {"type": "text", "align": "left", "baseline": "middle", "fontSize": 15, "color": "#0000ff", "font": "Liberation Serif"},
          "encoding": {
            "x": {"field": "feh", "type": "quantitative"},
            "y": {"field": "ofe", "type": "quantitative"},
            "text": {"field": "t"}
          }
        },
        {
          "data": {"name": "modes"},
          "mark": {"type": "rule", "strokeWidth": 3},
          "encoding": {
            "x": {"field": "a", "type": "quantitative"},
            "x2": {"field": "b"},
            "y": {"field": "ofe", "type": "quantitative"},
            "stroke": {"field": "m", "type": "nominal", "legend": null,
                       "scale": {"domain": ["fid", "tmin", "pow", "pop", "pd"], "range": ["#0000ff", "#0000ff", "#18bcbc", "#ff0000", "#ffa500"]}}
          }
        }
      ]
    },
    {
      "width": 73,
      "height": 230,
      "data": {"name": "pofe"},
      "mark": {"type": "line", "strokeWidth": 2, "clip": true},
      "encoding": {
        "x": {"field": "p", "type": "quantitative", "scale": {"domain": [0, 20], "nice": false},
              "axis": {"values": [0, 20], "title": "P ([O/Fe])", "titleFont": "Liberation Serif", "labelFont": "Liberation Serif", "titleFontSize": 17, "labelFontSize": 16, "tickSize": -5, "labelPadding": 11, "titlePadding": 2, "grid": false}},
        "y": {"field": "ofe", "type": "quantitative", "scale": {"domain": [-0.1, 0.5], "nice": false, "zero": false},
              "axis": {"orient": "right", "values": [0, 0.1, 0.2, 0.3, 0.4], "labels": false, "title": null, "tickSize": -7, "grid": true}},
        "order": {"field": "ofe", "type": "quantitative"},
        "color": {"field": "m", "type": "nominal", "legend": null,
                  "scale": {"domain": ["fid", "tmin", "pow", "pop", "pd"], "range": ["#0000ff", "#0000ff", "#18bcbc", "#ff0000", "#ffa500"]}},
        "strokeDash": {"field": "m", "type": "nominal", "legend": null,
                       "scale": {"domain": ["fid", "tmin", "pow", "pop", "pd"], "range": [[1, 0], [3, 2], [1, 0], [1, 0], [1, 0]]}}
      }
    }
  ]
}
